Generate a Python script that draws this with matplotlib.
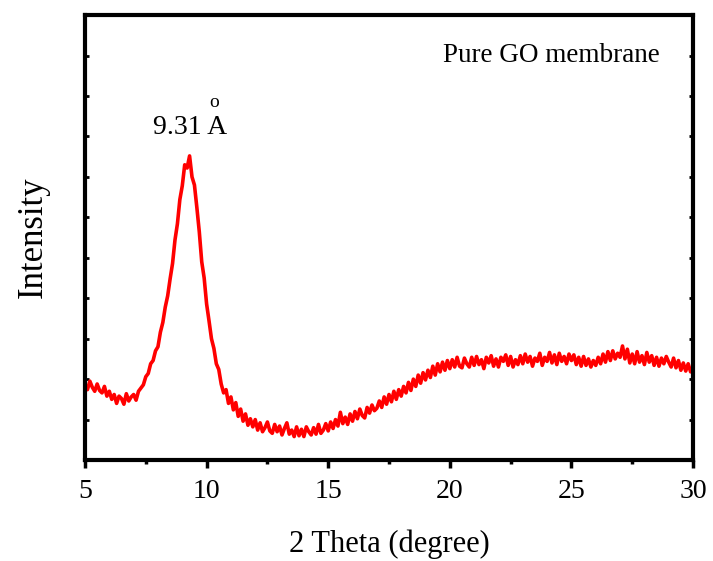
import numpy as np
import matplotlib.pyplot as plt

# === XRD pattern (2 theta step 0.1 deg, 5 -> 30) ===
two_theta = np.round(np.arange(5.0, 30.05, 0.1), 1)
intensity = [
    1.86, 1.74, 1.95, 1.80, 1.70, 1.88, 1.72, 1.66, 1.82, 1.58,   # 5
    1.70, 1.50, 1.62, 1.40, 1.58, 1.52, 1.38, 1.64, 1.46, 1.56,   # 6
    1.62, 1.48, 1.70, 1.78, 1.86, 2.06, 2.14, 2.38, 2.46, 2.70,   # 7
    2.80, 3.16, 3.40, 3.78, 4.06, 4.48, 4.86, 5.44, 5.84, 6.44,   # 8
    6.78, 7.30, 7.22, 7.52, 7.00, 6.80, 6.24, 5.64, 4.90, 4.50,   # 9
    3.86, 3.44, 3.00, 2.76, 2.38, 2.24, 1.88, 1.66, 1.74, 1.40,   # 10
    1.56, 1.24, 1.42, 1.08, 1.26, 0.96, 1.14, 0.86, 1.02, 0.82,   # 11
    1.00, 0.74, 0.92, 0.70, 0.80, 0.94, 0.72, 0.66, 0.88, 0.70,   # 12
    0.84, 0.62, 0.78, 0.92, 0.64, 0.74, 0.58, 0.82, 0.60, 0.76,   # 13
    0.58, 0.82, 0.70, 0.62, 0.80, 0.64, 0.88, 0.66, 0.74, 0.90,   # 14
    0.72, 0.94, 0.78, 1.00, 0.84, 1.18, 0.90, 1.06, 0.88, 1.14,   # 15
    0.96, 1.20, 1.02, 1.26, 1.10, 1.04, 1.30, 1.16, 1.36, 1.22,   # 16
    1.28, 1.46, 1.30, 1.56, 1.38, 1.62, 1.44, 1.70, 1.50, 1.74,   # 17
    1.58, 1.82, 1.66, 1.92, 1.72, 2.00, 1.82, 2.10, 1.90, 2.16,   # 18
    1.98, 2.22, 2.04, 2.32, 2.10, 2.38, 2.18, 2.42, 2.22, 2.46,   # 19
    2.26, 2.48, 2.30, 2.54, 2.32, 2.28, 2.52, 2.38, 2.30, 2.54,   # 20
    2.34, 2.56, 2.36, 2.48, 2.26, 2.54, 2.40, 2.58, 2.32, 2.50,   # 21
    2.30, 2.54, 2.44, 2.60, 2.34, 2.56, 2.30, 2.48, 2.36, 2.58,   # 22
    2.38, 2.62, 2.42, 2.56, 2.32, 2.52, 2.44, 2.64, 2.34, 2.54,   # 23
    2.44, 2.66, 2.40, 2.60, 2.36, 2.64, 2.44, 2.56, 2.38, 2.62,   # 24
    2.46, 2.60, 2.36, 2.54, 2.32, 2.56, 2.34, 2.50, 2.30, 2.46,   # 25
    2.34, 2.54, 2.38, 2.62, 2.42, 2.68, 2.46, 2.70, 2.50, 2.64,   # 26
    2.54, 2.82, 2.50, 2.74, 2.40, 2.62, 2.38, 2.68, 2.42, 2.58,   # 27
    2.36, 2.66, 2.42, 2.58, 2.34, 2.54, 2.32, 2.52, 2.38, 2.56,   # 28
    2.42, 2.30, 2.52, 2.28, 2.46, 2.22, 2.40, 2.20, 2.38, 2.18,   # 29
    2.30,                                                         # 30
]

x_ticks = [5, 10, 15, 20, 25, 30]
peak_label = "9.31 A"
sample_label = "Pure GO membrane"

plt.rcParams['font.family'] = ['Liberation Serif', 'DejaVu Serif']

fig = plt.figure(figsize=(7.13, 5.61), dpi=100)
ax = fig.add_axes([0.1192, 0.180, 0.8528, 0.793])

ax.plot(two_theta, intensity, color='red', lw=2.6)

ax.set_xlim(5, 30)
ax.set_ylim(0, 11)
ax.set_xticks(x_ticks)
ax.set_xticks(np.arange(7.5, 30, 5), minor=True)
ax.set_yticks(np.arange(1, 11))
ax.set_yticklabels([])

for s in ax.spines.values():
    s.set_linewidth(3)

ax.tick_params(axis='x', which='major', direction='out', length=6, width=2.5,
               labelsize=20, pad=8, top=False)
ax.tick_params(axis='x', which='minor', direction='out', length=3, width=2.5, top=False)
ax.tick_params(axis='y', which='major', direction='in', length=3, width=2, right=True)

ax.set_xlabel("2 Theta (degree)", fontsize=22, labelpad=18)
ax.set_ylabel("Intensity", fontsize=25, labelpad=22)

# peak annotation: "9.31 A" with the ring drawn as a small o above the A
ax.text(7.8, 8.07, peak_label, fontsize=20, ha='left', va='baseline')
ax.text(10.3, 8.72, "o", fontsize=14, ha='center', va='baseline')
ax.text(19.72, 9.83, sample_label, fontsize=19.5, ha='left', va='baseline')

plt.savefig("out.png", dpi=100)
